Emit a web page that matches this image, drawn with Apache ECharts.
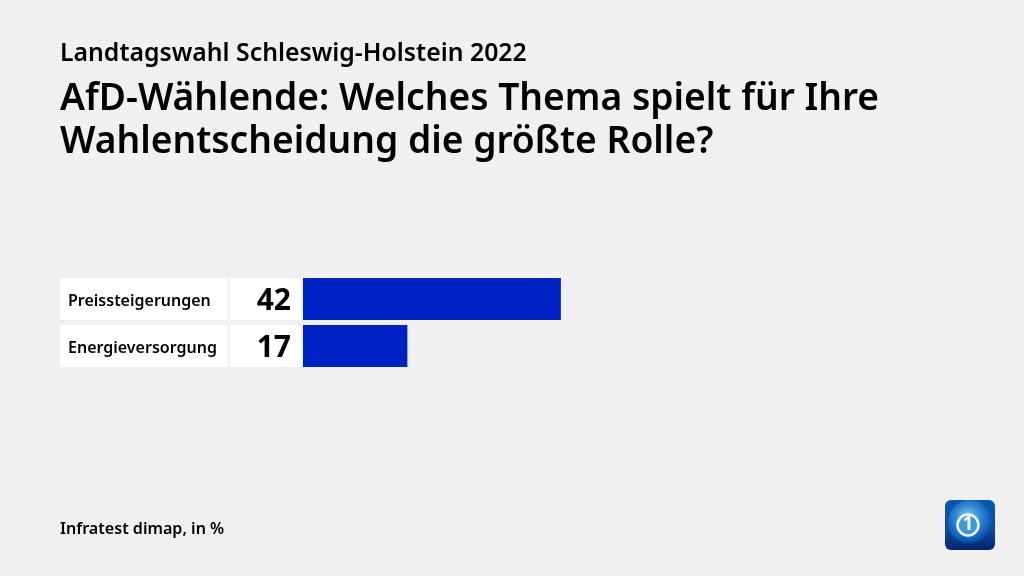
<!DOCTYPE html>
<html lang="de">

<head>
    <meta charset="utf-8">
    <title>Landtagswahl Schleswig-Holstein 2022</title>
    <script src="https://cdn.jsdelivr.net/npm/echarts@6/dist/echarts.min.js"></script>
    <style>
        html, body { margin: 0; padding: 0; background: #f0f0f0; }
        #main { width: 1024px; height: 576px; }
    </style>
</head>

<body>
    <div id="main"></div>
</body>

<script>
    // Daten
    var categories = ['Preissteigerungen', 'Energieversorgung'];
    var values = [42, 17];

    var kicker = 'Landtagswahl Schleswig-Holstein 2022';
    var headline = 'AfD-Wählende: Welches Thema spielt für Ihre\nWahlentscheidung die größte Rolle?';
    var source = 'Infratest dimap, in %';

    var font = '"Noto Sans", sans-serif';
    var myChart = echarts.init(document.getElementById('main'));

    var option = {
        animation: false,
        backgroundColor: '#f0f0f0',
        textStyle: { fontFamily: font },
        title: [
            { left: 60, top: 41, text: kicker, textStyle: { fontFamily: font, fontSize: 24.8, fontWeight: 600, color: '#000' }, padding: 0 },
            { left: 60, top: 78, text: headline, textStyle: { fontFamily: font, fontSize: 37.2, fontWeight: 600, lineHeight: 43, color: '#000' }, padding: 0 },
            { left: 60, top: 521, text: source, textStyle: { fontFamily: font, fontSize: 16.1, fontWeight: 600, color: '#000' }, padding: 0 }
        ],
        grid: { left: 303, top: 275.5, width: 614, height: 94 },
        xAxis: { type: 'value', min: 0, max: 100, show: false },
        yAxis: {
            type: 'category',
            inverse: true,
            data: categories,
            axisLine: { show: false },
            axisTick: { show: false },
            axisLabel: {
                margin: 2,
                // Zeilen: weisses Namensfeld, Luecke, weisses Wertefeld
                formatter: function (name, i) {
                    return '{name|' + name + '}{gap|}{val|' + values[i] + '}';
                },
                rich: {
                    name: { width: 160, height: 38, padding: [4, 0, 0, 8], backgroundColor: '#fff', align: 'left', fontFamily: font, fontSize: 16, fontWeight: 600, color: '#000' },
                    gap: { width: 2, height: 42 },
                    val: { width: 61, height: 38, padding: [4, 10, 0, 0], backgroundColor: '#fff', align: 'right', fontFamily: font, fontSize: 30, fontWeight: 700, color: '#000' }
                }
            }
        },
        series: [{
            type: 'bar',
            data: values,
            barWidth: 42,
            itemStyle: { color: '#0022c4' },
            silent: true
        }],
        graphic: [
            // Senderlogo unten rechts
            {
                type: 'rect', shape: { x: 945, y: 500, width: 50, height: 50, r: 6 },
                style: { fill: new echarts.graphic.LinearGradient(0, 0, 0, 1, [
                    { offset: 0, color: '#0857b0' }, { offset: 0.55, color: '#0a4ea6' }, { offset: 1, color: '#06256e' }
                ]) }
            },
            {
                type: 'circle', shape: { cx: 970, cy: 522, r: 22 },
                style: { fill: new echarts.graphic.RadialGradient(0.45, 0.4, 0.6, [
                    { offset: 0, color: '#8fd0f5' }, { offset: 0.5, color: '#2d86d3' }, { offset: 0.9, color: '#0c56ad' }, { offset: 1, color: 'rgba(12,80,165,0)' }
                ]) }
            },
            {
                type: 'circle', shape: { cx: 968, cy: 525, r: 10.5 },
                style: { fill: '#3f97dc', stroke: '#f4f9fd', lineWidth: 2.5 }
            },
            // die "1" als Flaeche im Ring
            {
                type: 'text', x: 968, y: 525,
                style: { text: '1', fill: '#eef6fc', fontFamily: font, fontSize: 19, fontWeight: 700, align: 'center', verticalAlign: 'middle' }
            }
        ]
    };
    myChart.setOption(option);
</script>

</html>
